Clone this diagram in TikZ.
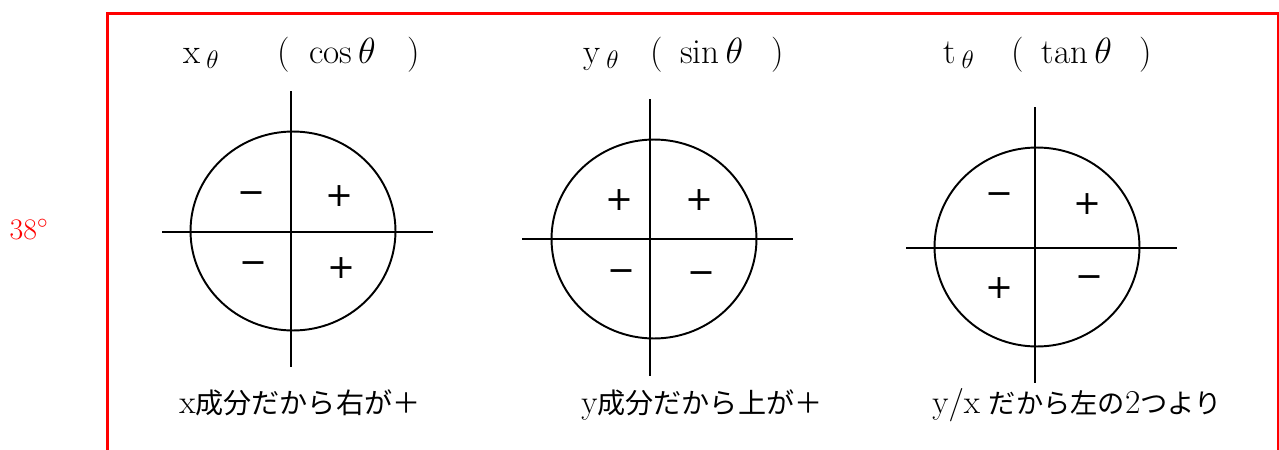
\documentclass[tikz,border=0pt]{standalone}
\usepackage{fontspec}
\newfontfamily\jp{Noto Sans CJK JP}
\newfontfamily\signfont{DejaVu Sans}
\newcommand\latn[1]{{\fontsize{19}{20}\selectfont #1}}
\usetikzlibrary{shapes.geometric}

\begin{document}
\begin{tikzpicture}[
    x=0.02cm, y=-0.02cm,
    circ/.style={draw, ellipse, line width=1.1pt, inner sep=0pt,
                 minimum width=4.1cm, minimum height=3.98cm},
    axis/.style={line width=1.1pt},
    sign/.style={font=\signfont\fontsize{19}{19}\selectfont, inner sep=0pt},
    title/.style={anchor=base west, inner sep=0pt,
                  font=\fontsize{20}{24}\selectfont},
    note/.style={anchor=base west, inner sep=0pt,
                 font=\fontsize{16}{18}\selectfont},
    frame/.style={draw=red, line width=1.7pt}
]
\useasboundingbox (0,0) rectangle (1279,450);
\clip (0,0) rectangle (1279,450);
% Frame and angle
\draw[frame] (107.5,13.5) rectangle (1278.5,470);
\node[red, font=\fontsize{17}{20}\selectfont] (ang) at (29,230) {38$^\circ$};
% Left — cos
\node[title] (xt) at (183,63)
      {x\,$_\theta$\hspace{33pt}(\hspace{11pt}$\cos\theta$\hspace{18pt})};
\node[circ] (c1) at (293,231) {};
\draw[axis] (162,232) -- (433,232);
\draw[axis] (291,91) -- (291,367);
\node[sign] (c1a) at (251,198) {−};
\node[sign] (c1b) at (339,196) {+};
\node[sign] (c1c) at (253,268) {−};
\node[sign] (c1d) at (341,268) {+};
\node[note] (xn) at (179,413) {\latn{x}{\jp 成分だから右が＋}};
% Middle — sin
\node[title] (yt) at (583,63)
      {y\,$_\theta$\hspace{18pt}(\hspace{9.5pt}$\sin\theta$\hspace{16pt})};
\node[circ] (c2) at (654,239) {};
\draw[axis] (522,239) -- (793,239);
\draw[axis] (650,99) -- (650,376);
\node[sign] (c2a) at (619,200) {+};
\node[sign] (c2b) at (699,200) {+};
\node[sign] (c2c) at (621,276) {−};
\node[sign] (c2d) at (701,278) {−};
\node[note] (yn) at (581,413) {\latn{y}{\jp 成分だから上が＋}};
% Right — tan
\node[title] (tt) at (943,63)
      {t\,$_\theta$\hspace{21pt}(\hspace{10pt}$\tan\theta$\hspace{16pt})};
\node[circ] (c3) at (1037,247) {};
\draw[axis] (906,248) -- (1177,248);
\draw[axis] (1035,107) -- (1035,383);
\node[sign] (c3a) at (999,199) {−};
\node[sign] (c3b) at (1087,204) {+};
\node[sign] (c3c) at (999,288) {+};
\node[sign] (c3d) at (1089,282) {−};
\node[note, font=\fontsize{15.5}{18}\selectfont] (tn) at (932,413)
      {\latn{y/x}\hspace{5pt}{\jp だから左の}\latn{2}{\jp つより}};
\end{tikzpicture}
\end{document}
